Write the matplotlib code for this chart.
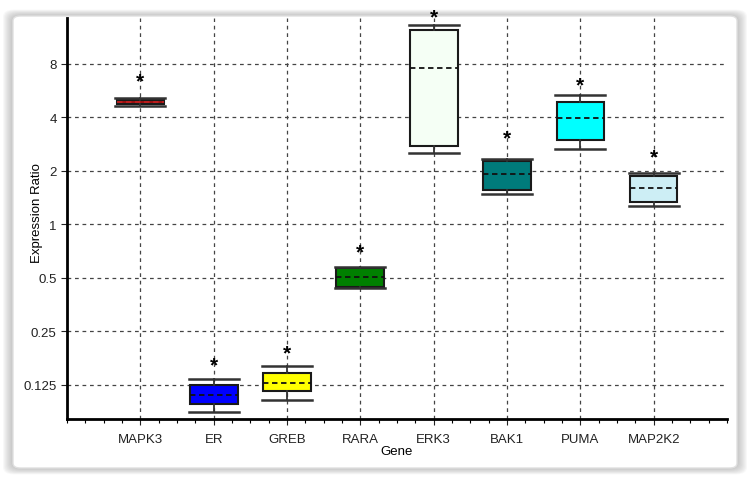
import matplotlib
matplotlib.use("Agg")
import matplotlib.pyplot as plt
from matplotlib.patches import FancyBboxPatch
from matplotlib.ticker import FixedLocator, MultipleLocator

plt.rcParams['font.family'] = ['Liberation Sans', 'DejaVu Sans']

# expression ratios (log2 axis)
genes = ['MAPK3', 'ER', 'GREB', 'RARA', 'ERK3', 'BAK1', 'PUMA', 'MAP2K2']
whis_lo = [4.63, 0.088, 0.103, 0.438, 2.53, 1.48, 2.66, 1.27]
q1 = [4.76, 0.097, 0.116, 0.444, 2.77, 1.56, 2.99, 1.34]
median = [4.89, 0.110, 0.128, 0.507, 7.62, 1.92, 3.97, 1.60]
q3 = [5.03, 0.125, 0.145, 0.570, 12.47, 2.28, 4.89, 1.88]
whis_hi = [5.13, 0.135, 0.160, 0.578, 13.27, 2.33, 5.35, 1.95]
star_y = [6.68, 0.168, 0.196, 0.727, 15.24, 3.18, 6.32, 2.50]
colors = ['#a01010', '#0000ff', '#ffff00', '#008000', '#f5fff5', '#007b7b', '#00ffff', '#cdeef5']
yticks = [0.125, 0.25, 0.5, 1, 2, 4, 8]
ytick_labels = ['0.125', '0.25', '0.5', '1', '2', '4', '8']

fig = plt.figure(figsize=(7.5, 4.81), dpi=100)

# soft shadowed frame around the panel
for i in range(10, 0, -1):
    fig.patches.append(FancyBboxPatch(
        (13 / 750, 12 / 481), 724 / 750, 452 / 481,
        boxstyle="round,pad=%f,rounding_size=0.015" % (i / 750),
        transform=fig.transFigure, facecolor='#808080', edgecolor='none',
        alpha=0.05, zorder=-3))
fig.patches.append(FancyBboxPatch(
    (13 / 750, 12 / 481), 724 / 750, 452 / 481,
    boxstyle="round,pad=0,rounding_size=0.01",
    transform=fig.transFigure, facecolor='white', edgecolor='#e0e0e0',
    linewidth=1, zorder=-2))

ax = fig.add_axes([67 / 750, 61 / 481, 660 / 750, 401 / 481])
ax.set_facecolor('none')
ax.set_zorder(2)

stats = []
for i, g in enumerate(genes):
    stats.append(dict(label=g, whislo=whis_lo[i], q1=q1[i], med=median[i],
                      q3=q3[i], whishi=whis_hi[i], fliers=[]))

positions = list(range(1, len(genes) + 1))
bp = ax.bxp(stats, positions=positions, widths=0.65, patch_artist=True,
            showfliers=False,
            boxprops=dict(edgecolor='#1a1a1a', linewidth=1.5),
            medianprops=dict(color='#111111', linestyle=(0, (3, 2)), linewidth=1.3),
            whiskerprops=dict(color='#333333', linewidth=1.3),
            capprops=dict(color='#333333', linewidth=1.8),
            capwidths=0.68)
for patch, c in zip(bp['boxes'], colors):
    patch.set_facecolor(c)
bp['medians'][0].set_color('#c02020')

for x, y in zip(positions, star_y):
    ax.annotate('*', (x, y), xytext=(0, -2), textcoords='offset points',
                ha='center', va='center', fontsize=15, fontweight='bold',
                annotation_clip=False)

ax.set_yscale('log', base=2)
ax.set_ylim(2 ** -3.64, 2 ** 3.86)
ax.set_xlim(0, 9)
ax.yaxis.set_major_locator(FixedLocator(yticks))
ax.set_yticklabels(ytick_labels)
ax.yaxis.set_minor_locator(FixedLocator([]))
ax.set_xticks(positions)
ax.set_xticklabels(genes)
ax.xaxis.set_minor_locator(MultipleLocator(0.25))

ax.grid(True, which='major', color='#444444', linestyle=(0, (3, 3)), linewidth=0.9)
ax.set_axisbelow(True)

ax.spines['top'].set_visible(False)
ax.spines['right'].set_visible(False)
ax.spines['left'].set_linewidth(2)
ax.spines['bottom'].set_linewidth(2)
ax.tick_params(axis='both', which='major', length=4, width=0.8, labelsize=9.5, colors='#222222')
ax.tick_params(axis='x', which='minor', length=3, width=0.8)
ax.tick_params(axis='x', pad=6)

ax.set_xlabel('Gene', fontsize=9.5, labelpad=0)
ax.set_ylabel('Expression Ratio', fontsize=9.5)
ax.yaxis.set_label_coords(-0.037, 0.515)

fig.savefig('out.png', dpi=100)
